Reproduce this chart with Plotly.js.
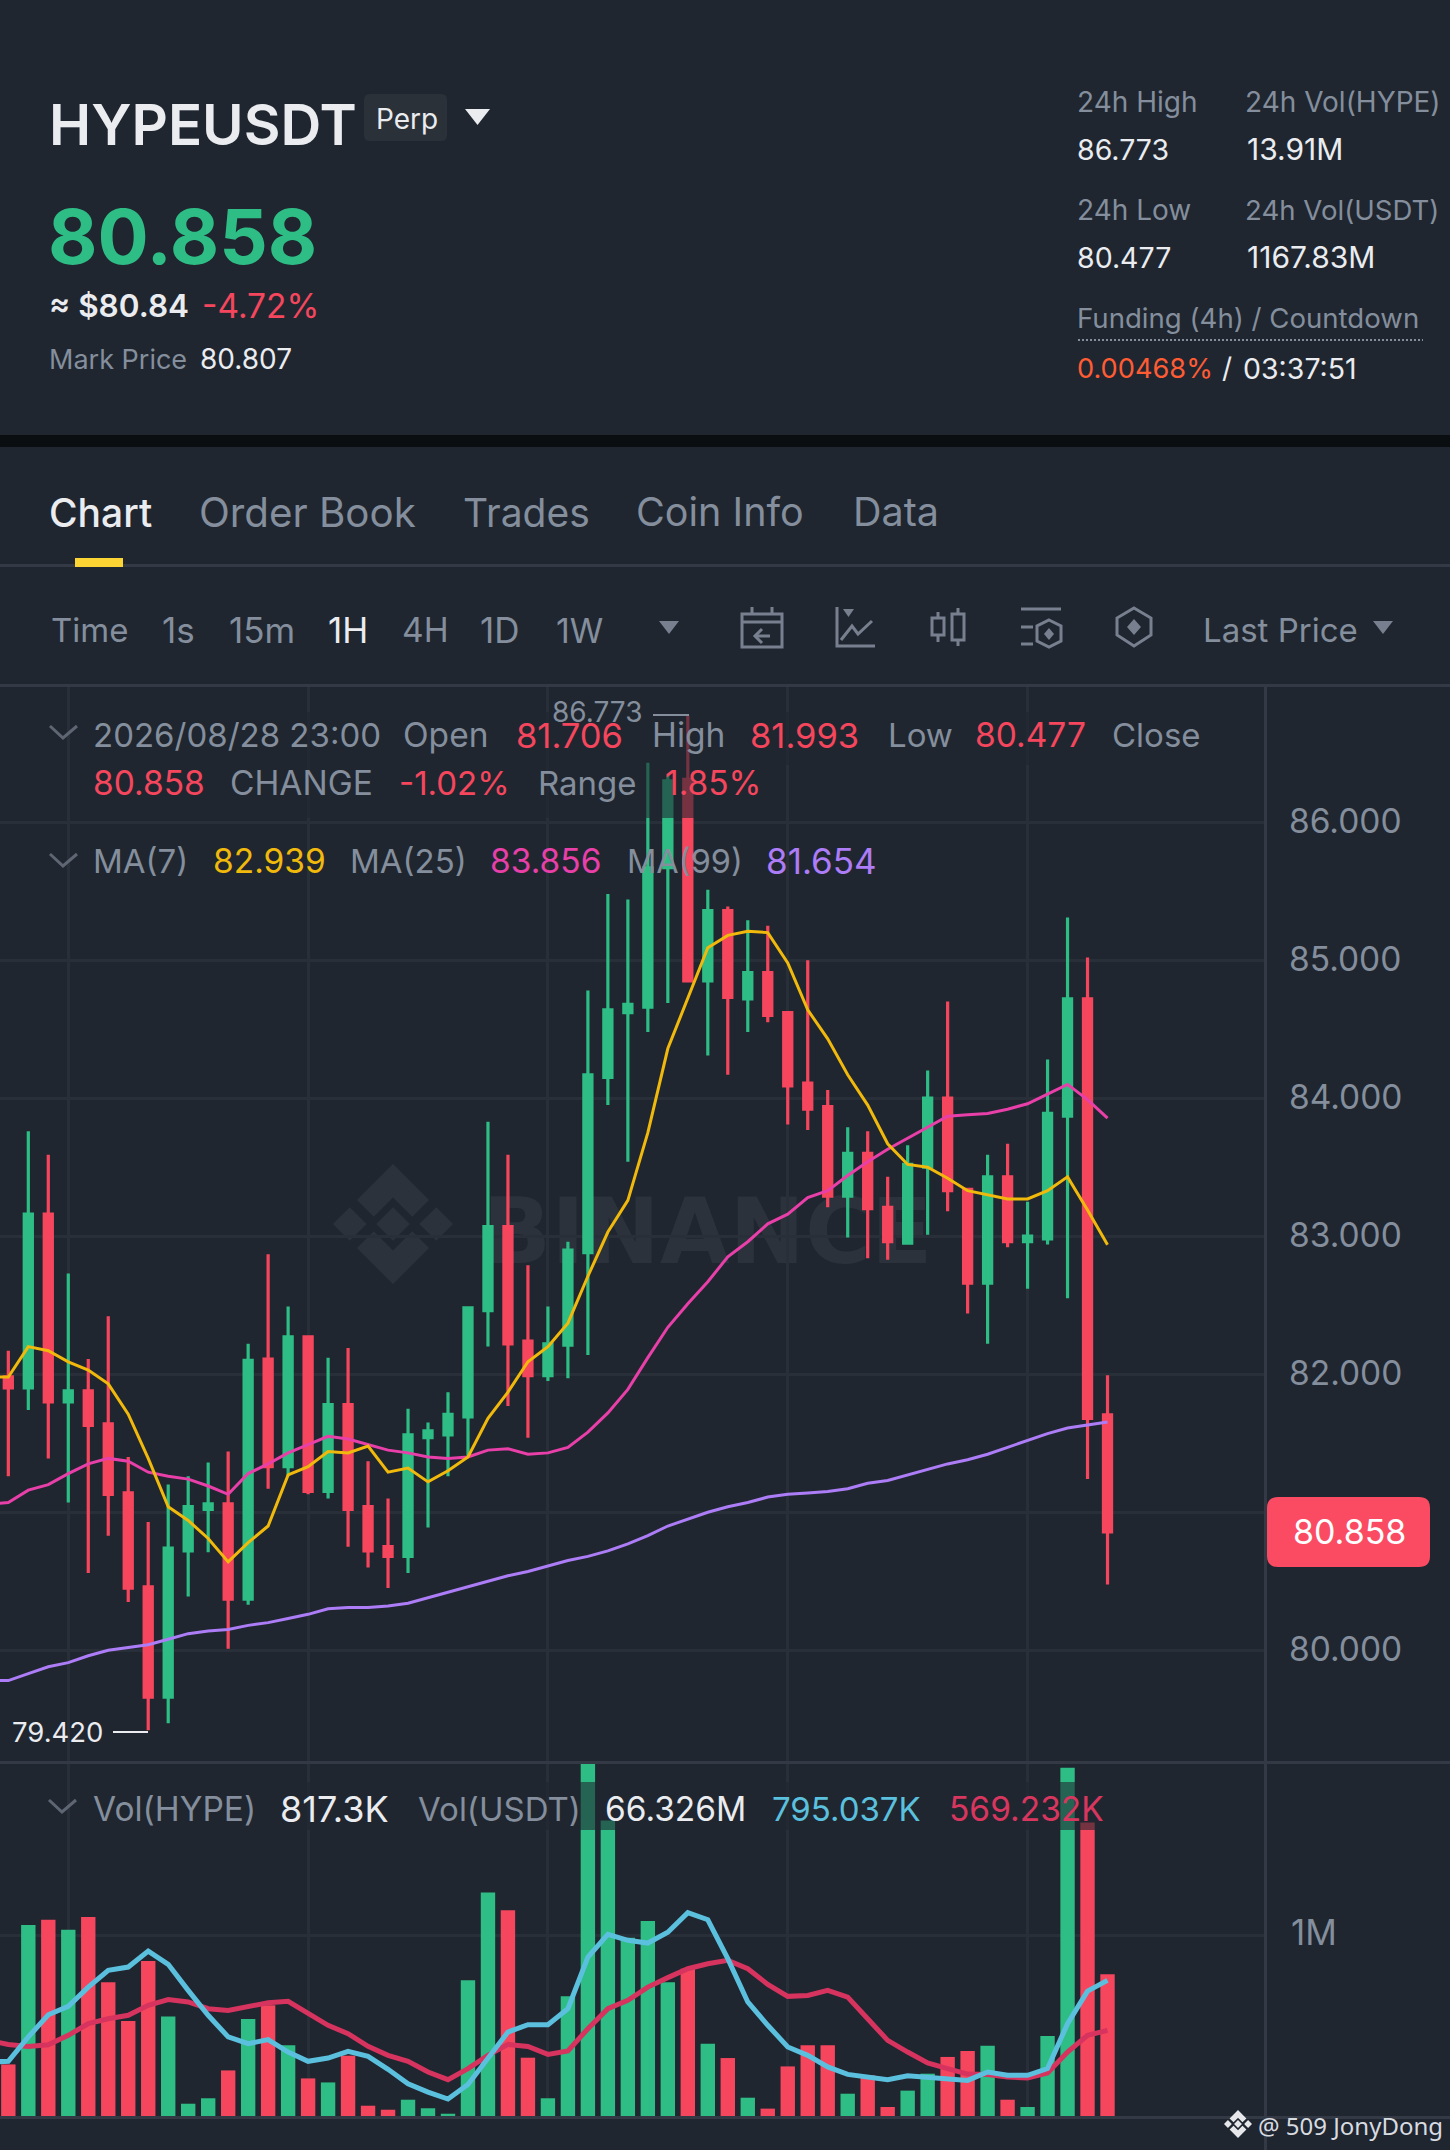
<!DOCTYPE html>
<html>
<head>
<meta charset="utf-8">
<script src="https://cdn.plot.ly/plotly-3.0.1.min.js"></script>
<style>html,body{margin:0;padding:0;background:#1f2630}#c{width:1450px;height:2150px}</style>
</head>
<body>
<div id="c"></div>
<script>
// ---------- data ----------
const opens = [81.98,81.90,83.16,81.80,81.88,81.64,81.14,80.46,79.66,80.72,81.02,81.06,80.37,82.11,81.33,82.27,81.15,81.78,81.04,80.75,80.68,81.54,81.56,81.69,82.46,83.07,82.24,81.99,82.21,82.88,84.15,84.62,84.66,85.67,86.31,84.85,85.36,84.72,84.91,84.62,84.11,83.94,83.29,83.60,83.21,82.95,83.50,84.00,83.34,82.66,83.43,82.96,82.98,83.87,84.72,81.706];
const highs = [82.17,83.76,83.59,82.73,82.11,82.42,81.40,80.93,81.20,81.26,81.36,81.44,82.22,82.87,82.49,82.28,82.12,82.19,81.37,81.10,81.75,81.65,81.87,82.48,83.83,83.59,82.79,82.49,82.96,84.78,85.48,85.44,86.43,86.35,86.773,85.51,85.39,85.29,85.25,84.62,85.00,84.06,83.79,83.76,83.43,83.66,84.20,84.70,83.34,83.59,83.67,83.25,84.28,85.31,85.02,81.993];
const lows = [81.26,81.74,81.39,81.07,80.56,80.83,80.35,79.42,79.47,80.39,80.71,80.01,80.33,81.17,81.26,81.13,81.10,80.75,80.60,80.45,80.56,80.89,81.26,81.41,82.20,81.77,81.54,81.95,81.97,82.14,83.95,83.54,84.48,84.69,84.85,84.31,84.17,84.48,84.55,83.81,83.77,83.21,82.99,82.84,82.83,82.94,83.01,83.18,82.44,82.22,82.92,82.62,82.94,82.55,81.24,80.477];
const closes = [81.90,83.16,81.80,81.88,81.63,81.13,80.45,79.66,80.74,81.04,81.06,80.37,82.10,81.33,82.27,81.15,81.78,81.02,80.72,80.68,81.56,81.59,81.71,82.48,83.07,82.22,81.99,82.22,82.90,84.17,84.64,84.68,85.67,86.30,84.85,85.36,84.73,84.91,84.60,84.09,83.92,83.29,83.60,83.20,82.96,83.52,84.00,83.33,82.66,83.43,82.96,83.00,83.89,84.72,81.68,80.858];
// moving averages start one candle earlier than the visible candles
const ma7 = [81.98,81.98,82.20,82.17,82.09,82.03,81.93,81.71,81.39,81.04,80.94,80.81,80.64,80.78,80.90,81.27,81.33,81.44,81.43,81.48,81.29,81.32,81.22,81.30,81.40,81.68,81.87,82.09,82.20,82.37,82.71,83.03,83.26,83.75,84.36,84.73,85.09,85.18,85.21,85.20,84.98,84.64,84.43,84.17,83.95,83.67,83.52,83.50,83.42,83.33,83.30,83.27,83.27,83.33,83.43,83.19,82.939];
const ma25 = [81.06,81.07,81.16,81.20,81.28,81.35,81.39,81.37,81.29,81.26,81.24,81.19,81.13,81.28,81.35,81.43,81.49,81.55,81.53,81.49,81.45,81.43,81.40,81.39,81.40,81.45,81.46,81.42,81.43,81.47,81.58,81.72,81.89,82.12,82.34,82.51,82.67,82.85,82.96,83.09,83.16,83.28,83.33,83.44,83.54,83.63,83.71,83.79,83.87,83.88,83.89,83.92,83.96,84.03,84.10,83.99,83.856];
const ma99 = [79.78,79.78,79.83,79.88,79.91,79.96,80.00,80.02,80.04,80.08,80.12,80.14,80.15,80.18,80.20,80.23,80.26,80.30,80.31,80.31,80.32,80.34,80.38,80.42,80.46,80.50,80.54,80.57,80.61,80.65,80.68,80.72,80.77,80.83,80.90,80.95,81.00,81.04,81.07,81.11,81.13,81.14,81.15,81.17,81.21,81.23,81.27,81.31,81.35,81.38,81.42,81.47,81.52,81.57,81.61,81.63,81.654];
// volume in thousands
const volumes = [289,1055,1084,1029,1099,740,527,857,553,73,103,256,538,614,394,212,190,337,62,40,95,48,18,751,1234,1136,326,103,663,1941,1630,985,1077,740,815,403,324,106,46,278,394,394,128,229,55,145,238,330,363,392,95,55,445,1919,1619,784];
const volMaShort = [302,306,440,562,608,714,806,824,912,839,696,559,440,403,425,357,306,324,361,333,262,183,137,99,179,321,467,507,507,595,879,1004,971,956,1015,1123,1084,870,632,504,385,339,275,234,218,205,227,220,207,201,247,229,229,266,513,692,751];
const volMaLong = [421,399,388,397,449,513,540,559,614,645,632,595,586,610,628,636,568,504,458,388,339,306,247,205,266,339,399,388,344,363,485,595,641,714,766,815,842,861,815,729,663,668,696,659,540,421,357,297,266,236,234,220,214,242,357,449,476];
const priceTicks = [80,81,82,83,84,85,86];
const gridCandles = [3,15,27,39,51];

// ---------- page geometry and colours ----------
const W = 1450, H = 2150;
const BG='#1f2630', UP='#2ebd85', DOWN='#f6465d', GREY='#848e9c', LIGHT='#eaecef', ICON='#78808f';
const GRID='#282f39', RULE='#333a46', FONT='Inter', VEIL='rgba(31,38,48,0.6)', MARK='#2b323c';
const X = p => p / W, Y = p => 1 - p / H;
const xs = closes.map((_, i) => i);
const maXs = ma7.map((_, i) => i - 1);

const annotations = [];
function T(text, x, y, size, color, o) {
  o = o || {};
  annotations.push({xref:'paper', yref:'paper', x:X(x), y:Y(y), xanchor:o.anchor||'left', yanchor:'middle',
    showarrow:false, text:text, borderpad:0, font:{family:o.family||FONT, size:size, color:color, weight:o.weight||400}});
}
const shapes = [];
function poly(pts, o) {
  o = o || {};
  const d = pts.map((p, i) => (i ? 'L' : 'M') + X(p[0]) + ',' + Y(p[1])).join(' ') + (o.closed ? ' Z' : '');
  shapes.push({type:'path', xref:'paper', yref:'paper', path:d, layer:o.layer||'above',
    fillcolor:o.fill||'rgba(0,0,0,0)', line:{color:o.color||ICON, width:o.fill&&!o.color?0:(o.width||3)}});
}
function rect(x0, y0, x1, y1, fill, layer) {
  shapes.push({type:'rect', xref:'paper', yref:'paper', x0:X(x0), x1:X(x1), y0:Y(y1), y1:Y(y0),
    fillcolor:fill, line:{width:0}, layer:layer||'above'});
}
function rounded(x0, y0, x1, y1, r, fill) {
  const q = (a, b) => X(a) + ',' + Y(b);
  const d = 'M' + q(x0+r,y0) + ' L' + q(x1-r,y0) + ' Q' + q(x1,y0) + ' ' + q(x1,y0+r) + ' L' + q(x1,y1-r) +
    ' Q' + q(x1,y1) + ' ' + q(x1-r,y1) + ' L' + q(x0+r,y1) + ' Q' + q(x0,y1) + ' ' + q(x0,y1-r) + ' L' + q(x0,y0+r) +
    ' Q' + q(x0,y0) + ' ' + q(x0+r,y0) + ' Z';
  shapes.push({type:'path', xref:'paper', yref:'paper', path:d, fillcolor:fill, line:{width:0}, layer:'above'});
}
function logo(cx, cy, s, fill, layer) {
  const parts = [
    [[0,-.28],[.28,0],[0,.28],[-.28,0]],
    [[-1,0],[-.72,-.28],[-.44,0],[-.72,.28]],
    [[1,0],[.72,-.28],[.44,0],[.72,.28]],
    [[0,-1],[.6,-.4],[.32,-.12],[0,-.44],[-.32,-.12],[-.6,-.4]],
    [[0,1],[.6,.4],[.32,.12],[0,.44],[-.32,.12],[-.6,.4]]
  ];
  parts.forEach(pt => poly(pt.map(p => [cx+p[0]*s, cy+p[1]*s]), {closed:true, fill:fill, layer:layer}));
}
const tri = (x0, x1, y0, y1, fill) => poly([[x0,y0],[x1,y0],[(x0+x1)/2,y1]], {closed:true, fill:fill});

// ---------- header ----------
T('HYPEUSDT', 48, 125, 56.5, LIGHT, {weight:600});
rounded(364, 94, 447, 141, 6, '#2b3139');
T('Perp', 375, 119, 28, LIGHT);
tri(465, 490, 109, 125, LIGHT);
T('80.858', 47, 236, 76, UP, {weight:700});
T('≈ $80.84', 48, 306, 31.5, LIGHT, {weight:600});
T('-4.72%', 201, 306, 33.5, DOWN);
T('Mark Price', 48, 359, 27, GREY);
T('80.807', 199, 359, 28, LIGHT);
T('24h High', 1076, 102, 28, GREY);
T('24h Vol(HYPE)', 1244, 102, 28, GREY);
T('86.773', 1076, 149, 28.5, LIGHT);
T('13.91M', 1246, 149, 30, LIGHT);
T('24h Low', 1076, 210, 28, GREY);
T('24h Vol(USDT)', 1244, 210, 27.6, GREY);
T('80.477', 1076, 257, 28.5, LIGHT);
T('1167.83M', 1246, 257, 30, LIGHT);
T('Funding (4h) / Countdown', 1076, 318, 27.6, GREY);
shapes.push({type:'line', xref:'paper', yref:'paper', x0:X(1078), x1:X(1423), y0:Y(340), y1:Y(340), line:{color:GREY, width:2, dash:'2px,2px'}});
T('0.00468%', 1076, 368, 27.2, '#ff5c34');
T('/', 1221, 368, 28, LIGHT);
T('03:37:51', 1242, 368, 28.5, LIGHT);
rect(0, 435, W, 447, '#0b0e11');

// ---------- tabs ----------
T('Chart', 48, 512, 39, LIGHT, {weight:500});
T('Order Book', 198, 512, 40.3, GREY);
T('Trades', 462, 512, 39, GREY);
T('Coin Info', 635, 512, 39.5, GREY);
T('Data', 852, 512, 39.5, GREY);
rect(0, 564, W, 567, RULE);
rect(75, 558, 123, 567, '#fcd535');

// ---------- toolbar ----------
T('Time', 50, 630, 33, GREY);
T('1s', 161, 630, 35, GREY);
T('15m', 228, 630, 35, GREY);
T('1H', 327, 630, 35, LIGHT);
T('4H', 401, 630, 33.5, GREY);
T('1D', 479, 630, 35, GREY);
T('1W', 555, 630, 34, GREY);
tri(659, 679, 621, 634, ICON);
// calendar
poly([[742,614],[782,614],[782,647],[742,647]], {closed:true});
poly([[752,607],[752,614]]); poly([[772,607],[772,614]]); poly([[742,622],[782,622]]);
poly([[770,636],[755,636]]); poly([[762,629],[755,636],[762,643]]);
// line chart
poly([[837,607],[837,646],[875,646]]);
poly([[841,640],[852,626],[858,634],[872,621]]);
tri(843, 854, 609, 617, ICON);
// candles
poly([[932,618],[944,618],[944,635],[932,635]], {closed:true});
poly([[938,612],[938,618]]); poly([[938,635],[938,642]]);
poly([[952,614],[964,614],[964,640],[952,640]], {closed:true});
poly([[958,608],[958,614]]); poly([[958,640],[958,646]]);
// settings
poly([[1021,609],[1061,609]]); poly([[1021,627],[1033,627]]); poly([[1021,644],[1033,644]]);
poly([[1049,620],[1061,626],[1061,641],[1049,647],[1037,641],[1037,626]], {closed:true});
poly([[1049,628],[1054,634],[1049,640],[1044,634]], {closed:true, fill:ICON});
// hexagon
poly([[1134,608],[1151,618],[1151,635],[1134,646],[1117,635],[1117,618]], {closed:true});
poly([[1134,619],[1141,627],[1134,635],[1127,627]], {closed:true, fill:ICON});
T('Last Price', 1202, 630, 33, GREY);
tri(1373, 1393, 621, 634, ICON);
rect(0, 684, W, 687, RULE);

// ---------- watermark ----------
logo(393, 1224, 60, MARK, 'below');
shapes.push({type:'rect', xref:'paper', yref:'paper', x0:X(470), x1:X(945), y0:Y(1270), y1:Y(1180), layer:'below',
  line:{width:0}, fillcolor:'rgba(0,0,0,0)',
  label:{text:'BINANCE', textposition:'middle center', font:{family:'"DejaVu Sans"', size:90, color:MARK, weight:700}}});

// ---------- chart legends ----------
rect(90, 712, 1210, 765, VEIL);
rect(90, 765, 775, 818, VEIL);
const chev = (x, y) => poly([[x,y],[x+13,y+12],[x+27,y]], {color:'#5e6673', width:3});
chev(50, 726);
T('2026/08/28 23:00', 92, 735, 33, GREY);
T('Open', 402, 735, 33.5, GREY);
T('81.706', 515, 735, 34.5, DOWN);
T('High', 651, 735, 33.5, GREY);
T('81.993', 749, 735, 34.5, DOWN);
T('Low', 887, 735, 33, GREY);
T('80.477', 974, 735, 33.5, DOWN);
T('Close', 1111, 735, 33, GREY);
T('80.858', 92, 783, 33.5, DOWN);
T('CHANGE', 229, 783, 33.5, GREY);
T('-1.02%', 398, 783, 33, DOWN);
T('Range', 537, 783, 33, GREY);
T('1.85%', 664, 783, 33.5, DOWN);
chev(50, 854);
T('MA(7)', 92, 861, 33, GREY);
T('82.939', 212, 861, 33.5, '#f0b90b');
T('MA(25)', 349, 861, 33, GREY);
T('83.856', 489, 861, 33.5, '#e83fa9');
T('MA(99)', 626, 861, 32.5, GREY);
T('81.654', 765, 861, 35, '#ad7cf7');
T('86.773', 551, 712, 28, GREY);
shapes.push({type:'line', xref:'paper', yref:'paper', x0:X(653), x1:X(689), y0:Y(715), y1:Y(715), line:{color:GREY, width:2}});
T('79.420', 11, 1732, 27.5, LIGHT);
shapes.push({type:'line', xref:'paper', yref:'paper', x0:X(113), x1:X(148), y0:Y(1732), y1:Y(1732), line:{color:LIGHT, width:2}});

// volume legend
rect(0, 1761, W, 1764, RULE);
rect(90, 1782, 1115, 1830, VEIL);
chev(49, 1800);
T('Vol(HYPE)', 92, 1809, 33.5, GREY);
T('817.3K', 279, 1809, 36, LIGHT);
T('Vol(USDT)', 417, 1809, 33, GREY);
T('66.326M', 604, 1809, 33.5, LIGHT);
T('795.037K', 771, 1809, 33, '#5bc0de');
T('569.232K', 948, 1809, 33.5, '#d9365f');

// separators, last price tag, credit
rect(0, 2116, W, 2119, RULE);
rect(1264, 686, 1267, H, RULE);
rounded(1267, 1497, 1430, 1567, 11, '#fa4b63');
annotations.push({xref:'paper', yref:'y', x:X(1349), y:closes[closes.length-1], xanchor:'center', yanchor:'middle', showarrow:false,
  text:'80.858', font:{family:FONT, size:34, color:'#ffffff'}});
logo(1238, 2124, 14, '#e5e7ea', 'above');
T('@ 509 JonyDong', 1257, 2125, 24, '#d8dbe0', {family:'"Noto Sans"'});

// ---------- traces ----------
const candle = {
  type:'candlestick', x:xs, open:opens, high:highs, low:lows, close:closes, xaxis:'x', yaxis:'y', whiskerwidth:0,
  increasing:{line:{color:UP, width:3.2}, fillcolor:UP},
  decreasing:{line:{color:DOWN, width:3.2}, fillcolor:DOWN}, hoverinfo:'skip'
};
const line = (x, y, color, width, ax, ay) => ({type:'scatter', mode:'lines', x:x, y:y, xaxis:ax, yaxis:ay, cliponaxis:true,
  line:{color:color, width:width}, hoverinfo:'skip'});
const volBars = {type:'bar', x:xs, y:volumes, xaxis:'x2', yaxis:'y2', width:0.72,
  marker:{color:closes.map((c, i) => c >= opens[i] ? UP : DOWN), line:{width:0}}, hoverinfo:'skip'};
const traces = [
  candle,
  line(maXs, ma99, '#ad7cf7', 3, 'x', 'y'),
  line(maXs, ma25, '#e83fa9', 3, 'x', 'y'),
  line(maXs, ma7, '#f0b90b', 3, 'x', 'y'),
  volBars,
  line(maXs, volMaLong, '#d6335f', 5, 'x2', 'y2'),
  line(maXs, volMaShort, '#5bc0de', 5, 'x2', 'y2')
];

// ---------- layout ----------
const xCommon = {range:[-0.4165, 62.83], domain:[0, 1264/W], showticklabels:false, ticks:'', tickmode:'array', tickvals:gridCandles,
  showgrid:true, gridcolor:GRID, gridwidth:3, zeroline:false, showline:false, fixedrange:true};
const layout = {
  width:W, height:H, margin:{l:0, r:0, t:0, b:0}, paper_bgcolor:BG, plot_bgcolor:BG, showlegend:false, hovermode:false, bargap:0.28,
  boxgap:0.42, dragmode:false,
  xaxis:Object.assign({}, xCommon, {anchor:'y', rangeslider:{visible:false}}),
  xaxis2:Object.assign({}, xCommon, {anchor:'y2'}),
  yaxis:{domain:[Y(1762), Y(686)], range:[79.19, 86.987], side:'right', anchor:'x', tickmode:'array', tickvals:priceTicks, tickformat:'.3f',
    showgrid:true, gridcolor:GRID, gridwidth:3, zeroline:false, showline:false, ticks:'', ticklabelstandoff:24, ticklabelshift:-1,
    tickfont:{family:FONT, size:33.5, color:GREY}, fixedrange:true},
  yaxis2:{domain:[Y(2117), Y(1762)], range:[0, 1951], side:'right', anchor:'x2', tickmode:'array', tickvals:[1000], ticktext:['1M'],
    showgrid:true, gridcolor:GRID, gridwidth:3, zeroline:false, showline:false, ticks:'', ticklabelstandoff:26, ticklabelshift:-2,
    tickfont:{family:FONT, size:35, color:GREY}, fixedrange:true},
  shapes:shapes, annotations:annotations
};
Plotly.newPlot('c', traces, layout, {displayModeBar:false, staticPlot:true, responsive:false});
</script>
</body>
</html>
